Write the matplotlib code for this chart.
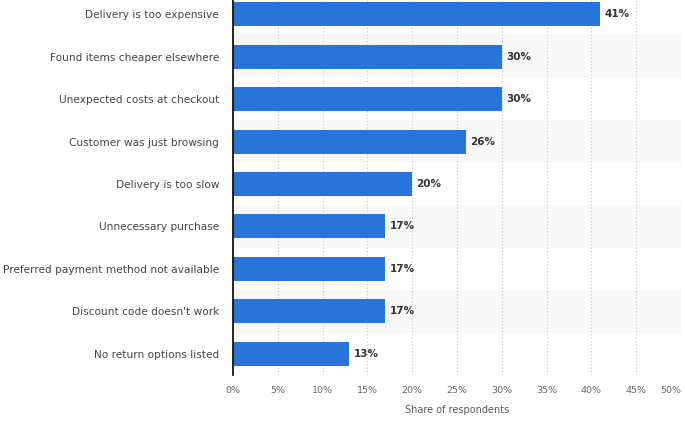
import matplotlib
matplotlib.use("Agg")
import matplotlib.pyplot as plt

categories = [
    "Delivery is too expensive",
    "Found items cheaper elsewhere",
    "Unexpected costs at checkout",
    "Customer was just browsing",
    "Delivery is too slow",
    "Unnecessary purchase",
    "Preferred payment method not available",
    "Discount code doesn't work",
    "No return options listed",
]
values = [41, 30, 30, 26, 20, 17, 17, 17, 13]
xticks = [0, 5, 10, 15, 20, 25, 30, 35, 40, 45, 50]

BAR = "#2874d9"

fig = plt.figure(figsize=(6.85, 4.23), dpi=100)
ax = fig.add_axes([233 / 685, 48 / 423, 448 / 685, 382 / 423])

ypos = list(range(len(categories)))
for i in ypos:
    if i % 2 == 1:
        ax.axhspan(i - 0.5, i + 0.5, color="#f8f8f8", zorder=0, lw=0)

ax.barh(ypos, values, height=0.565, color=BAR, zorder=3)
for y, v in zip(ypos, values):
    ax.text(v + 0.45, y, f"{v}%", va="center", ha="left", fontsize=7.5,
            fontweight="bold", color="#333333", zorder=4)

ax.set_xlim(0, 50)
ax.set_ylim(len(categories) - 0.5, -0.5)
ax.set_yticks(ypos)
ax.set_yticklabels(categories, fontsize=7.6, color="#444444")
ax.set_xticks(xticks)
ax.set_xticklabels([f"{t}%" for t in xticks])
# last label would run off the canvas; pull it inside like the original
ax.get_xticklabels()[-1].set_ha("right")
ax.tick_params(axis="x", labelsize=6.8, colors="#666666", length=0, pad=8)
ax.tick_params(axis="y", length=0, pad=10)
ax.grid(axis="x", color="#c8c8c8", ls=(0, (1, 2)), lw=0.8, zorder=1)
for s in ("top", "right", "bottom"):
    ax.spines[s].set_visible(False)
ax.spines["left"].set_color("black")
ax.spines["left"].set_linewidth(1.2)
ax.spines["left"].set_zorder(5)
ax.set_xlabel("Share of respondents", fontsize=7, color="#555555", labelpad=7)

fig.savefig("out.png", dpi=100)
